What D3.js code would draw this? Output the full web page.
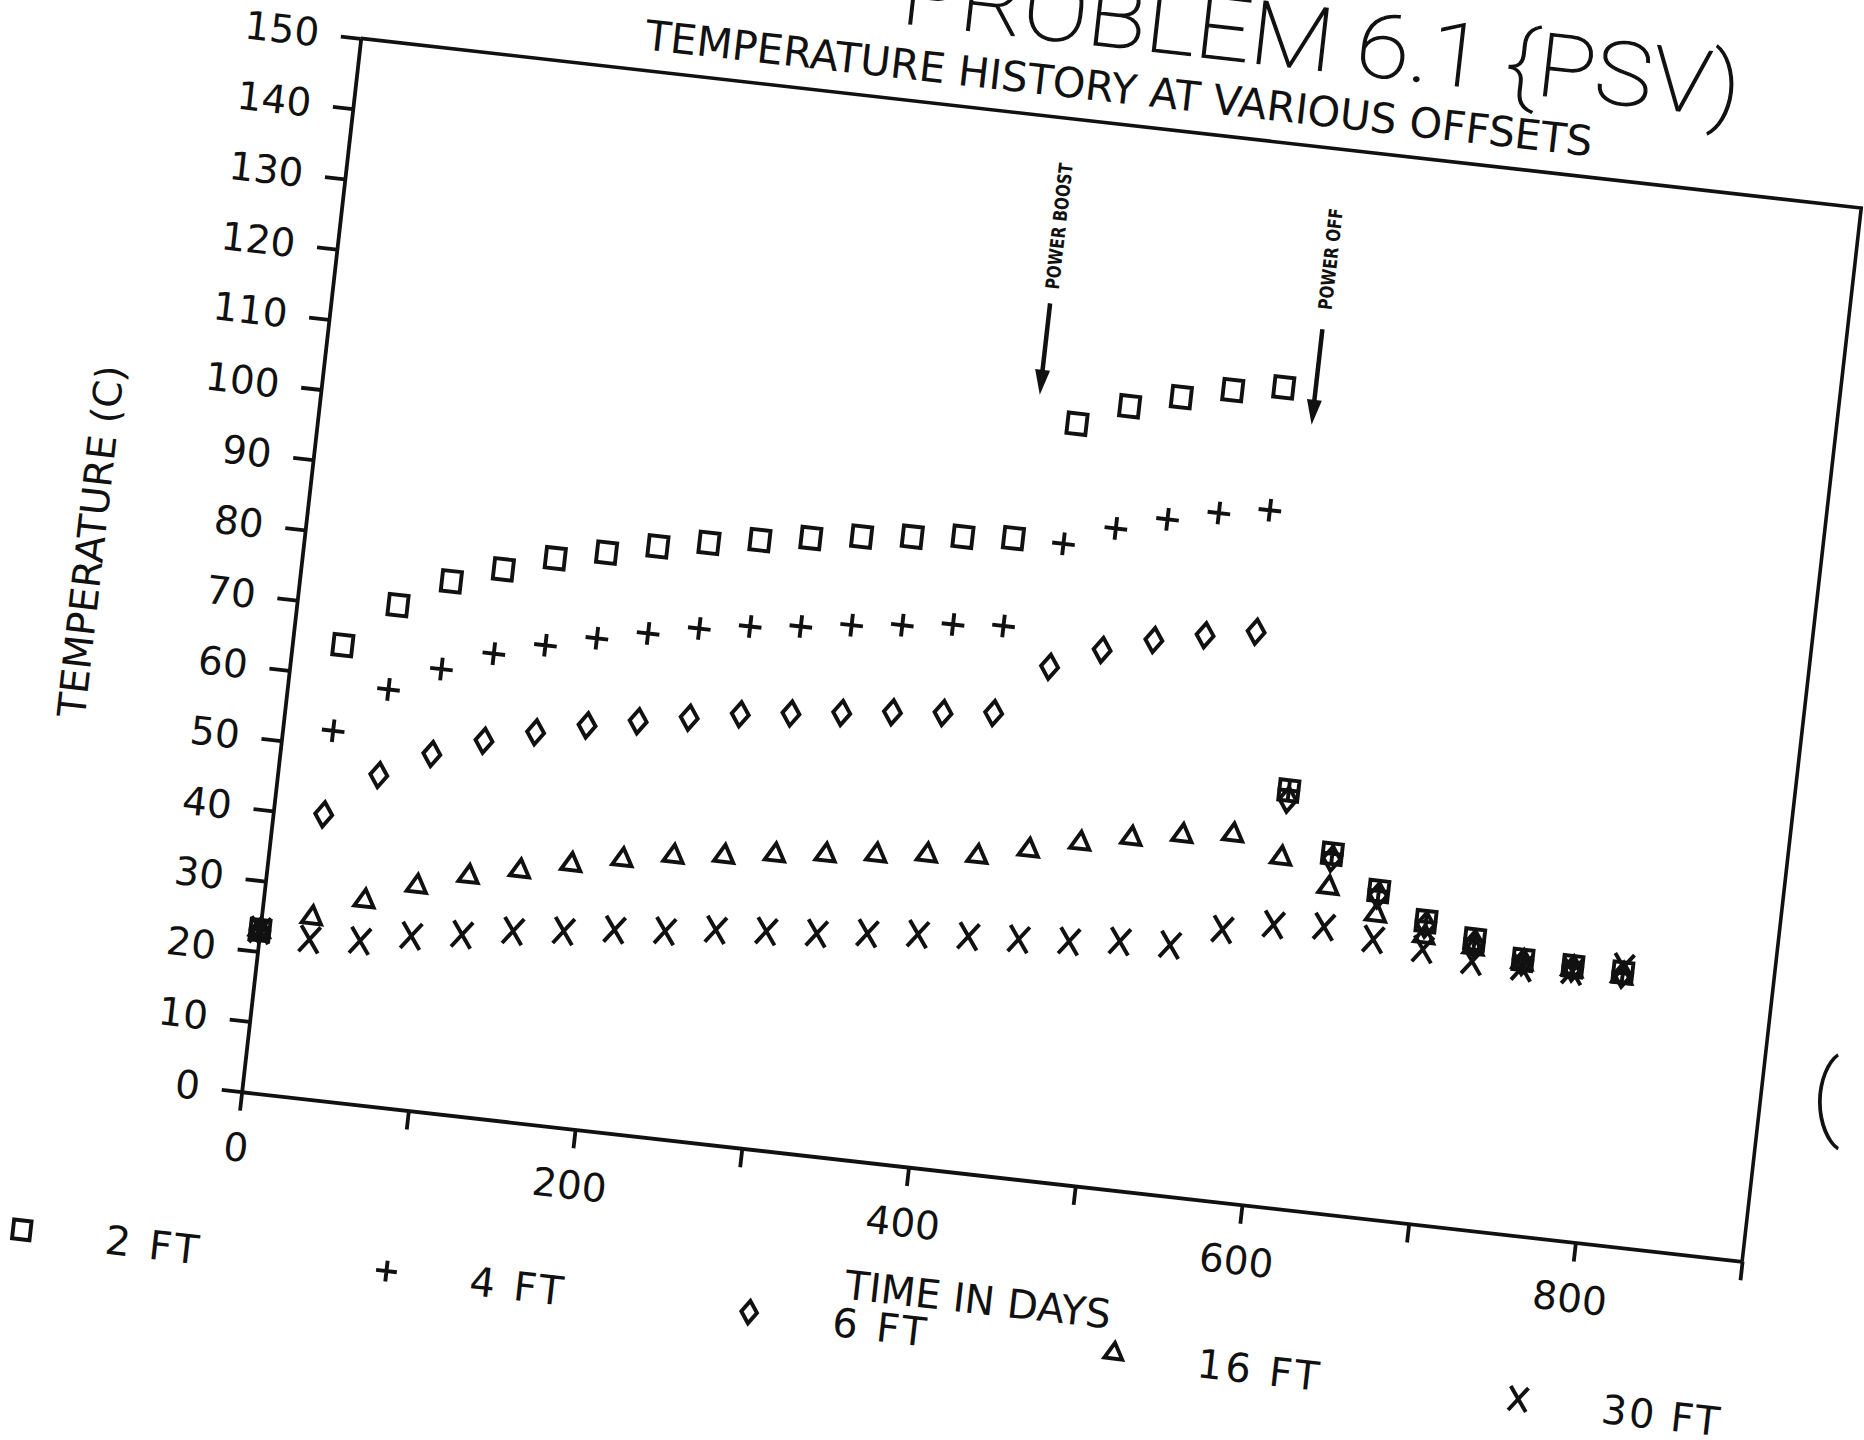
<!DOCTYPE html>
<html>
<head>
<meta charset="utf-8">
<script src="https://cdn.jsdelivr.net/npm/d3@7"></script>
<style>
  body { margin: 0; background: #fff; }
  svg { display: block; }
  .axis path, .axis line { stroke: #111; stroke-width: 3.8; }
  .axis text { font-family: "DejaVu Sans", "Liberation Sans", sans-serif; font-size: 39px; fill: #111; }
  .lbl { font-family: "DejaVu Sans", "Liberation Sans", sans-serif; fill: #111; }
  .mark { fill: none; stroke: #111; stroke-width: 3.9; stroke-linejoin: miter; vector-effect: non-scaling-stroke; }
</style>
</head>
<body>
<div id="chart"></div>
<script>
// sample days (every 30 days)
const days = [0, 30, 60, 90, 120, 150, 180, 210, 240, 270, 300, 330, 360, 390,
  420, 450, 480, 510, 540, 570, 600, 630, 660, 690, 720, 750, 780, 810];

// temperatures (C) at each offset
const ft2 = [23.0, 64.4, 70.9, 75.1, 77.6, 80.0, 81.6, 83.3, 84.6, 85.8, 86.9, 87.9, 88.7, 89.5,
  90.1, 107.2, 110.5, 112.6, 114.4, 115.6, 59.0, 50.8, 46.3, 42.8, 41.0, 38.9, 38.8, 38.7];
const ft4 = [23.0, 52.2, 58.9, 62.6, 65.6, 67.6, 69.4, 70.9, 72.4, 73.5, 74.3, 75.3, 76.1, 77.0,
  77.6, 90.1, 93.1, 95.2, 96.9, 98.1, 59.0, 50.8, 46.3, 42.7, 40.9, 38.9, 38.7, 38.6];
const ft6 = [23.0, 40.3, 46.7, 50.5, 53.2, 55.2, 57.0, 58.4, 59.7, 61.0, 61.9, 62.8, 63.7, 64.4,
  65.2, 72.6, 75.8, 78.0, 79.5, 80.8, 57.7, 50.1, 45.7, 42.3, 40.5, 38.6, 38.5, 38.4];
const ft16 = [23.0, 25.6, 28.8, 31.7, 33.9, 35.5, 37.2, 38.7, 40.0, 40.8, 41.8, 42.6, 43.4, 44.2,
  44.8, 46.5, 48.3, 49.8, 51.0, 51.9, 49.4, 46.0, 42.9, 40.6, 39.8, 38.5, 38.3, 38.1];
const ft30 = [23.0, 22.5, 23.1, 24.6, 25.6, 26.9, 27.7, 28.7, 29.3, 30.3, 30.9, 31.4, 32.2, 32.9,
  33.4, 33.8, 34.3, 35.1, 35.4, 38.4, 39.9, 40.4, 39.4, 38.8, 37.9, 37.8, 38.1, 39.5];

const seriesNames = ['2 FT', '4 FT', '6 FT', '16 FT', '30 FT'];

const xTicks = [0, 100, 200, 300, 400, 500, 600, 700, 800, 900];
const xTickLabels = [0, 200, 400, 600, 800];
const yTicks = [0, 10, 20, 30, 40, 50, 60, 70, 80, 90, 100, 110, 120, 130, 140, 150];

// arrows marking the power changes
const eventNames = ['POWER BOOST', 'POWER OFF'];
const eventDays = [426, 589];
const eventArrowFrom = [123.7, 124.4];
const eventArrowTo = [110.7, 110.8];
const eventTextAt = [134.7, 134.4];

// layout
const width = 1864, height = 1440;
const W = 1510, H = 1060;
const origin = [241.7, 1091.7];
const tilt = 6.45;

const svg = d3.select('#chart').append('svg')
  .attr('width', width).attr('height', height);
svg.append('rect').attr('width', width).attr('height', height).attr('fill', '#fff');

const x = d3.scaleLinear([0, 900], [0, W]);
const y = d3.scaleLinear([0, 150], [H, 0]);

const g = svg.append('g')
  .attr('transform', `translate(${origin[0]},${origin[1]}) rotate(${tilt}) translate(0,${-H})`);

// axes
g.append('g').attr('class', 'axis')
  .attr('transform', `translate(0,${H})`)
  .call(d3.axisBottom(x).tickValues(xTicks).tickSize(19).tickSizeOuter(0).tickPadding(23)
    .tickFormat(d => xTickLabels.includes(d) ? d : ''));
g.append('g').attr('class', 'axis')
  .call(d3.axisLeft(y).tickValues(yTicks).tickSize(20).tickSizeOuter(0).tickPadding(22));

// top and right border
g.append('path')
  .attr('d', d3.line()([[x(0), y(150)], [x(900), y(150)], [x(900), y(0)]]))
  .attr('fill', 'none').attr('stroke', '#111').attr('stroke-width', 3.6);

// markers
const symbolTypes = [d3.symbolSquare2, d3.symbolPlus, d3.symbolDiamond2, d3.symbolTriangle2, d3.symbolTimes];
const symbolSizes = [460, 170, 380, 270, 340];
const symbolStretch = [[1, 1.08], [1, 1], [0.7, 1], [1, 1.02], [0.85, 1.15]];
const seriesValues = [ft2, ft4, ft6, ft16, ft30];

seriesValues.forEach((vals, i) => {
  const path = d3.symbol(symbolTypes[i], symbolSizes[i])();
  g.append('g').selectAll('path')
    .data(days.map((d, j) => [d, vals[j]]))
    .join('path')
    .attr('class', 'mark')
    .attr('d', path)
    .attr('transform', d => `translate(${x(d[0])},${y(d[1])}) scale(${symbolStretch[i][0]},${symbolStretch[i][1]})`);
});

// event arrows + labels
eventNames.forEach((name, i) => {
  const ax = x(eventDays[i]);
  const y0 = y(eventArrowFrom[i]), y1 = y(eventArrowTo[i]);
  g.append('line')
    .attr('x1', ax).attr('x2', ax).attr('y1', y0).attr('y2', y1 - 18)
    .attr('stroke', '#111').attr('stroke-width', 4.5);
  g.append('path')
    .attr('d', `M${ax - 7.5},${y1 - 25}L${ax + 7.5},${y1 - 25}L${ax},${y1}Z`)
    .attr('fill', '#111');
  g.append('text').attr('class', 'lbl')
    .attr('transform', `translate(${ax + 7},${y(eventTextAt[i])}) rotate(-90)`)
    .attr('text-anchor', 'middle')
    .attr('font-size', 19).attr('font-weight', 'bold')
    .attr('textLength', i === 0 ? 127 : 102)
    .attr('lengthAdjust', 'spacingAndGlyphs')
    .attr('fill', '#222')
    .text(name);
});

// titles
g.append('text').attr('class', 'lbl')
  .attr('x', x(450) + 4).attr('y', -21)
  .attr('text-anchor', 'middle').attr('font-size', 41.5)
  .text('TEMPERATURE HISTORY AT VARIOUS OFFSETS');

g.append('text')
  .attr('x', 955).attr('y', -76)
  .attr('text-anchor', 'middle')
  .attr('font-family', 'Roboto, "DejaVu Sans", sans-serif')
  .attr('font-weight', 100).attr('font-size', 88)
  .attr('textLength', 843).attr('lengthAdjust', 'spacingAndGlyphs')
  .attr('fill', '#111').attr('stroke', '#111').attr('stroke-width', 1.3)
  .text('PROBLEM 6.1 {PSV)');

g.append('text').attr('class', 'lbl')
  .attr('transform', `translate(-198,${y(75)}) rotate(-90)`)
  .attr('text-anchor', 'middle').attr('font-size', 39)
  .text('TEMPERATURE (C)');

g.append('text').attr('class', 'lbl')
  .attr('x', x(450)).attr('y', H + 138)
  .attr('text-anchor', 'middle').attr('font-size', 40)
  .text('TIME IN DAYS');

// legend, laid along a row below the axis
const legendPos = [-203, 164, 529, 896, 1303];
const legend = g.append('g').attr('transform', `translate(0,${H + 162})`);
seriesNames.forEach((name, i) => {
  legend.append('path').attr('class', 'mark')
    .attr('d', d3.symbol(symbolTypes[i], symbolSizes[i] * 0.85)())
    .attr('transform', `translate(${legendPos[i]},0) scale(${symbolStretch[i][0]},${symbolStretch[i][1]})`);
  legend.append('text').attr('class', 'lbl')
    .attr('x', legendPos[i] + 84).attr('dy', '0.36em')
    .attr('font-size', 40).attr('letter-spacing', i === 4 ? 2 : 3)
    .text(name);
});

// stray handwritten mark at right edge of the scan
svg.append('text')
  .attr('x', 1812).attr('y', 1128)
  .attr('font-family', 'Roboto, sans-serif').attr('font-weight', 100)
  .attr('font-size', 92).attr('fill', '#111').attr('stroke', '#111').attr('stroke-width', 1.3)
  .text('(');
</script>
</body>
</html>
